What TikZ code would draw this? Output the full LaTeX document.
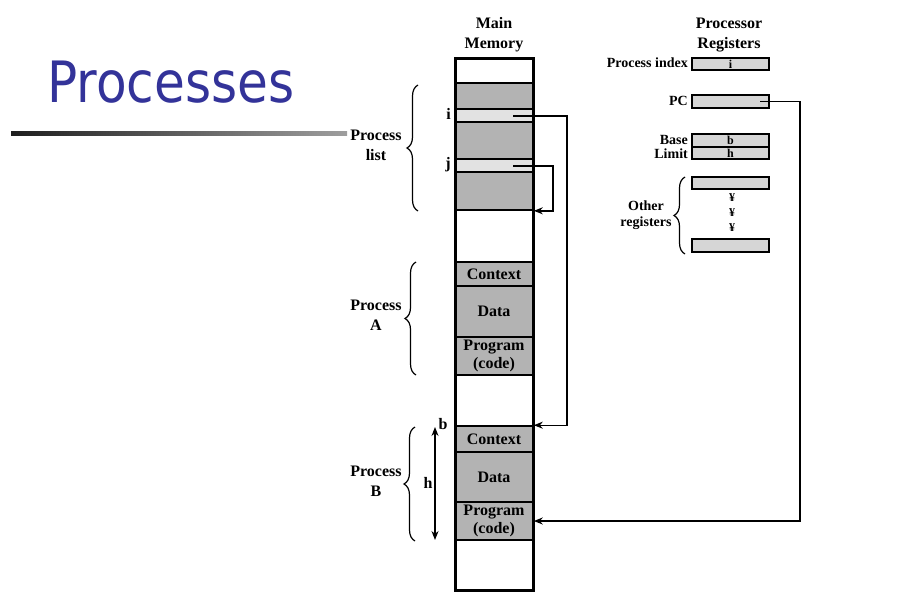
\documentclass[tikz,border=0pt]{standalone}
\usepackage{graphicx}
\usepackage{fontspec}
\setmainfont{Liberation Serif}
\newfontfamily\titlefont{DejaVu Sans}
\usepackage{tikz}
\usetikzlibrary{arrows.meta,decorations.pathreplacing,calc}
\definecolor{slideblue}{HTML}{333399}
\definecolor{memgray}{HTML}{B3B3B3}
\definecolor{slotgray}{HTML}{E2E2E2}
\definecolor{reggray}{HTML}{D6D6D6}

\tikzset{
  memblk/.style={draw, line width=1.6pt, fill=memgray, minimum width=78pt, inner sep=0pt,
    font=\bfseries\fontsize{16}{18}\selectfont, align=center},
  slot/.style={draw, line width=1.6pt, fill=slotgray, minimum width=78pt, minimum height=13pt, inner sep=0pt},
  reg/.style={draw, line width=1.6pt, fill=reggray, minimum width=77pt, minimum height=12.5pt, inner sep=0pt,
    font=\bfseries\fontsize{12}{12}\selectfont},
  lbl/.style={font=\bfseries\fontsize{16}{20}\selectfont, align=center, inner sep=0pt},
  small/.style={font=\bfseries\fontsize{14}{16}\selectfont, align=center, inner sep=0pt},
  ptr/.style={->, line width=1.4pt},
  curly/.style={decorate, decoration={brace, amplitude=11pt}, line width=1.2pt}
}

\begin{document}
\begin{tikzpicture}[x=1pt, y=-1pt, >={Stealth[length=9pt,width=7pt]}]
  \useasboundingbox (0,0) rectangle (910,592);

  % title and rule
  \node[font=\titlefont\fontsize{57}{57}\selectfont, text=slideblue, anchor=base west, inner sep=0pt]
    (title) at (47,102) {\scalebox{0.88}[1]{Processes}};
  \shade[left color=black!88, right color=black!38] (11,131) rectangle (347,135);

  % main memory
  \node[lbl] (memlbl) at (494,35) {Main\\Memory};
  \node[memblk, minimum height=127pt] (plist) at (494,146.5) {};
  \node[slot] (islot) at (494,115.5) {};
  \node[slot] (jslot) at (494,165.5) {};
  \node[memblk, minimum height=24pt] (ctxA) at (494,274) {Context};
  \node[memblk, minimum height=51pt] (dataA) at (494,311.5) {Data};
  \node[memblk, minimum height=38pt] (progA) at (494,356) {Program\\(code)};
  \node[memblk, minimum height=26pt] (ctxB) at (494,439) {Context};
  \node[memblk, minimum height=50pt] (dataB) at (494,477) {Data};
  \node[memblk, minimum height=38pt] (progB) at (494,521) {Program\\(code)};
  \node[draw, line width=3pt, minimum width=78pt, minimum height=532pt, inner sep=0pt] (mem) at (494,324) {};

  \node[lbl, anchor=east] (ilbl) at (451,114) {i};
  \node[lbl, anchor=east] (jlbl) at (451,165) {j};

  % braces on the left
  \draw[curly] (418,211) -- (418,85);
  \node[lbl] (plistlbl) at (376,145) {Process\\list};
  \draw[curly] (416,375) -- (416,262);
  \node[lbl] (pAlbl) at (376,315) {Process\\A};
  \draw[curly] (415,541) -- (415,427);
  \node[lbl] (pBlbl) at (376,481) {Process\\B};

  % base and length of process B
  \coordinate (htop) at (435,427);
  \coordinate (hbot) at (435,540);
  \draw[<->, line width=1.2pt] (htop) -- (hbot);
  \node[lbl] (blbl) at (443,424) {b};
  \node[lbl] (hlbl) at (428,483) {h};

  % processor registers
  \node[lbl] (reglbl) at (729,35) {Processor\\Registers};
  \node[reg] (rix) at (730.5,64) {i};
  \node[small, anchor=east] (rixlbl) at (688,63) {Process index};
  \node[reg] (rpc) at (730.5,101.5) {};
  \node[small, anchor=east] (rpclbl) at (688,101) {PC};
  \node[reg] (rbase) at (730.5,140.5) {b};
  \node[reg] (rlimit) at (730.5,153) {h};
  \node[small, anchor=east] (rbaselbl) at (688,140) {Base};
  \node[small, anchor=east] (rlimitlbl) at (688,154) {Limit};
  \node[reg] (rot1) at (730.5,183) {};
  \node[reg] (rot2) at (730.5,245.5) {};
  \foreach \y/\nm in {198/d1, 213/d2, 228/d3} {
    \node[font=\bfseries\fontsize{12}{12}\selectfont, inner sep=0pt] (\nm) at (732,\y) {¥};
  }
  \draw[curly] (685,254) -- (685,177);
  \node[small] (otherlbl) at (646,215) {Other\\registers};

  % pointers
  \coordinate (ip) at (513,116);
  \coordinate (jp) at (513,166);
  \coordinate (pcp) at (760,101.5);
  \draw[ptr] (ip) -- ++(54,0) |- (ctxB.north east);
  \draw[ptr] (jp) -- ++(40,0) |- (plist.south east);
  \draw[ptr] (pcp) -- ++(40,0) |- (progB.east);
\end{tikzpicture}
\end{document}
